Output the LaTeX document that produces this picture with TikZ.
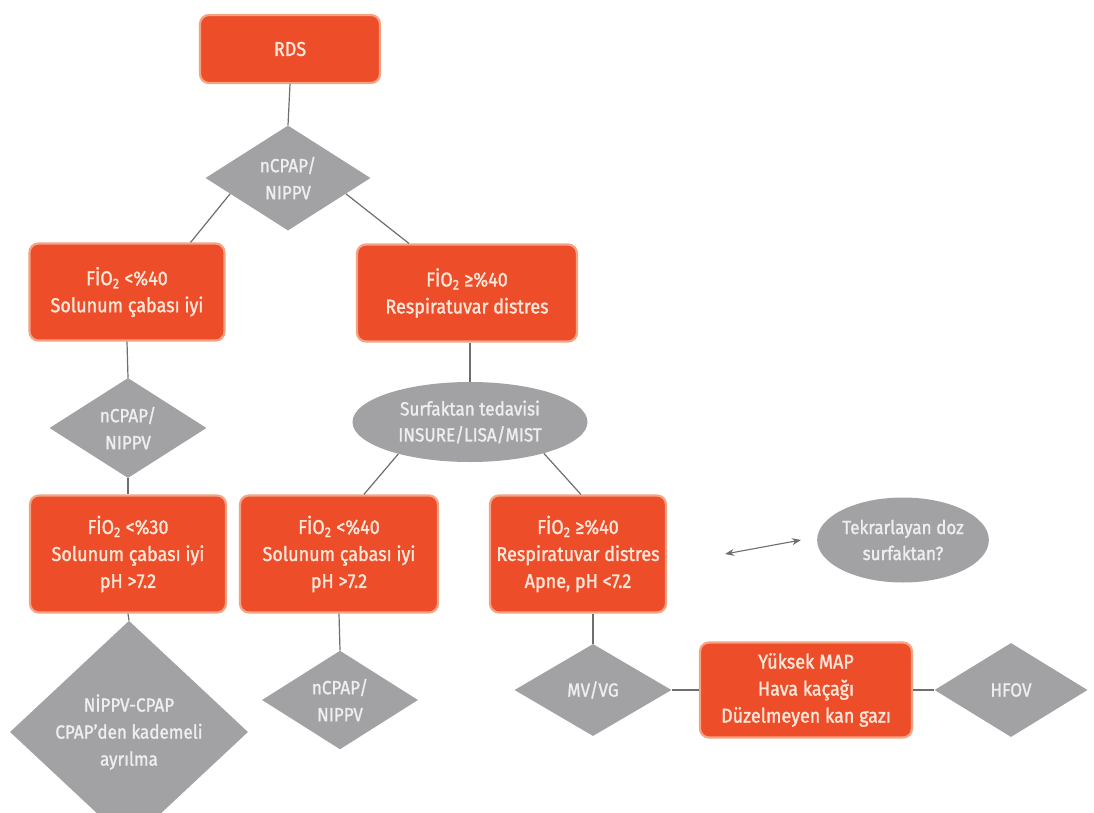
\documentclass[tikz,border=0pt]{standalone}
\usepackage{fontspec}
\setmainfont{Fira Sans}[FakeStretch=0.9, BoldFont=Fira Sans, BoldFeatures={FakeBold=1.4}]
\usetikzlibrary{shapes.geometric,arrows.meta,calc}
\definecolor{orfill}{HTML}{EE4D2A}
\definecolor{orline}{HTML}{F4A384}
\definecolor{ortext}{HTML}{FCE8DA}
\definecolor{gfill}{HTML}{A2A2A4}
\definecolor{gtext}{HTML}{EEEEEE}
\definecolor{conn}{HTML}{6E6E6E}
\tikzset{
  obox/.style={draw=orline, line width=2.2pt, fill=orfill, rounded corners=9pt,
    text=ortext, align=center, inner sep=0pt, font=\fontsize{20}{27}\selectfont\bfseries},
  gdia/.style={diamond, fill=gfill, text=gtext, align=center, inner sep=0pt,
    font=\fontsize{19}{27}\selectfont\bfseries},
  gell/.style={ellipse, fill=gfill, text=gtext, align=center, inner sep=0pt,
    font=\fontsize{19}{26}\selectfont\bfseries},
  conline/.style={draw=conn, line width=1.2pt},
}
\newcommand{\fio}{F\.IO\textsubscript{2}}
\begin{document}
\begin{tikzpicture}[x=1pt,y=-1pt]
\useasboundingbox[fill=white] (0,0) rectangle (1094,813);
\node[obox, minimum width=180pt, minimum height=68pt] (rds) at (290,49) {RDS};
\node[gdia, minimum width=165pt, minimum height=105pt] (d1) at (288,178) {nCPAP/\\NIPPV};
\node[obox, minimum width=195pt, minimum height=97pt] (b1) at (127,292) {\fio{} <\%40\\Solunum çabası iyi};
\node[obox, minimum width=220pt, minimum height=97pt] (b2) at (467,293) {\fio{} ≥\%40\\Respiratuvar distres};
\node[gdia, minimum width=157pt, minimum height=100pt] (d2) at (128,428) {nCPAP/\\NIPPV};
\node[gell, minimum width=235pt, minimum height=80pt] (e1) at (470,422) {Surfaktan tedavisi\\INSURE/LISA/MIST};
\node[obox, minimum width=196pt, minimum height=117pt] (b3) at (128,554) {\fio{} <\%30\\Solunum çabası iyi\\pH >7.2};
\node[obox, minimum width=198pt, minimum height=117pt] (b4) at (339,554) {\fio{} <\%40\\Solunum çabası iyi\\pH >7.2};
\node[obox, minimum width=176pt, minimum height=117pt] (b5) at (578,554) {\fio{} ≥\%40\\Respiratuvar distres\\Apne, pH <7.2};
\node[gell, minimum width=163pt, minimum height=85pt] (e2) at (903,540) {Tekrarlayan doz\\surfaktan?};
\node[gdia, minimum width=238pt, minimum height=155pt] (d3) at (129,732) {N\.IPPV-CPAP\\CPAP'den kademeli\\ayrılma};
\node[gdia, minimum width=156pt, minimum height=96pt] (d4) at (340,700) {nCPAP/\\NIPPV};
\node[gdia, minimum width=157pt, minimum height=92pt] (d5) at (593,690) {MV/VG};
\node[obox, minimum width=212pt, minimum height=95pt] (b6) at (806,690) {Yüksek MAP\\Hava kaçağı\\Düzelmeyen kan gazı};
\node[gdia, minimum width=153pt, minimum height=94pt] (d6) at (1011,690) {HFOV};

\draw[conline] (rds.south) -- (d1.north);
\draw[conline] ($(d1.west)!0.3!(d1.south)$) -- ([xshift=-35pt]b1.north east);
\draw[conline] ($(d1.east)!0.3!(d1.south)$) -- ([xshift=53pt]b2.north west);
\draw[conline] (b1.south) -- (d2.north);
\draw[conline] (d2.south) -- (b3.north);
\draw[conline] (b2.south -| e1.north) -- (e1.north);
\draw[conline] (e1.204) -- ([xshift=125pt]b4.north west);
\draw[conline] (e1.337) -- ([xshift=92pt]b5.north west);
\draw[conline] (b3.south) -- (d3.north);
\draw[conline] (b4.south) -- (d4.north);
\draw[conline] (b5.south -| d5.north) -- (d5.north);
\draw[conline] (d5.east) -- (b6.west);
\draw[conline] (b6.east) -- (d6.west);
\draw[conline, line width=1.1pt, {Stealth[length=9pt,width=7pt]}-{Stealth[length=9pt,width=7pt]}] ([xshift=58pt]b5.east) -- ([xshift=-16pt]e2.west);
\end{tikzpicture}
\end{document}
